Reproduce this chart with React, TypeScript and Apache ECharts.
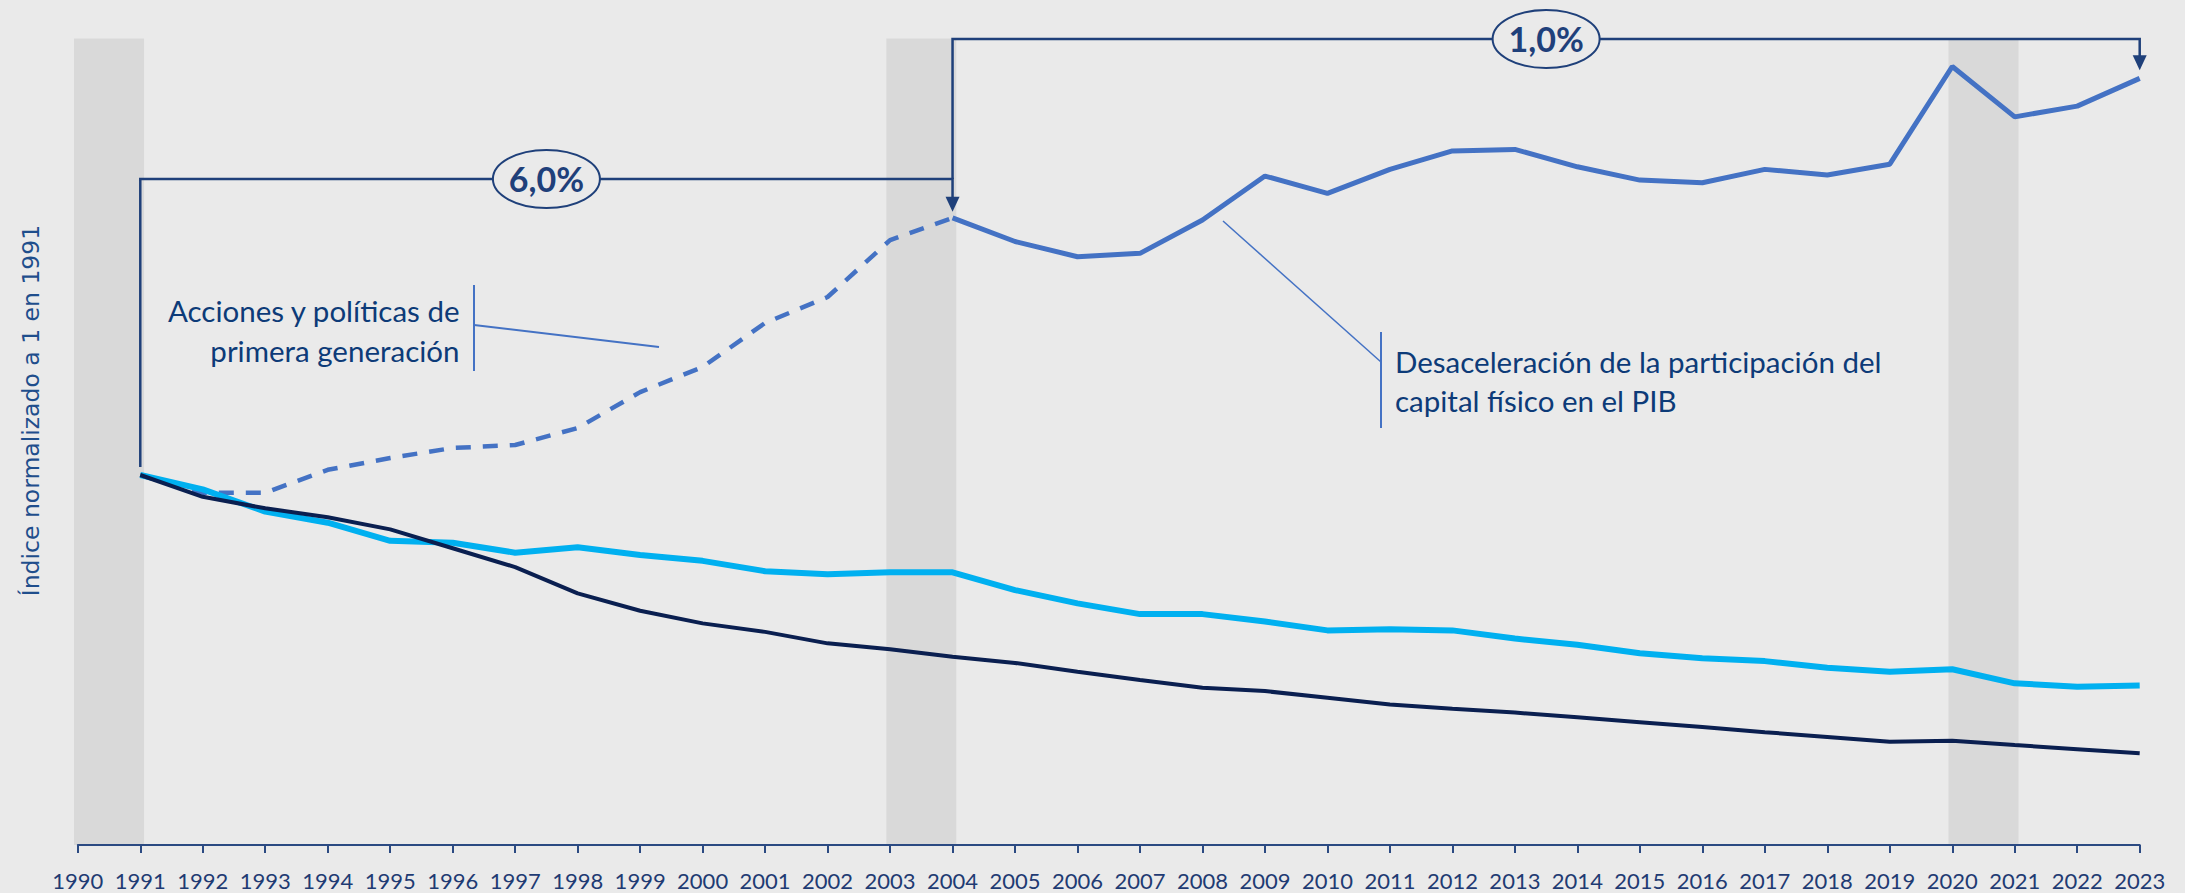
import React, { useEffect, useRef } from 'react';
import * as echarts from 'echarts';

// ---------- DATA ----------
const years = [
  '1990', '1991', '1992', '1993', '1994', '1995', '1996', '1997', '1998', '1999',
  '2000', '2001', '2002', '2003', '2004', '2005', '2006', '2007', '2008', '2009',
  '2010', '2011', '2012', '2013', '2014', '2015', '2016', '2017', '2018', '2019',
  '2020', '2021', '2022', '2023',
];

// Upper series (dashed up to 2004, solid afterwards), index 1991 = 1
const capitalValues = [
  null, 1.0, 0.952, 0.952, 1.014, 1.046, 1.073, 1.081, 1.127, 1.224,
  1.292, 1.411, 1.481, 1.635, 1.695, 1.631, 1.59, 1.599, 1.689, 1.808,
  1.761, 1.826, 1.876, 1.88, 1.833, 1.797, 1.79, 1.826, 1.811, 1.84,
  2.104, 1.968, 1.997, 2.072,
];

// Light blue series
const lightValues = [
  null, 1.0, 0.961, 0.901, 0.871, 0.822, 0.817, 0.79, 0.805, 0.784,
  0.768, 0.74, 0.732, 0.737, 0.737, 0.689, 0.653, 0.624, 0.624, 0.604,
  0.58, 0.583, 0.58, 0.558, 0.541, 0.518, 0.505, 0.497, 0.479, 0.468,
  0.475, 0.437, 0.428, 0.431,
];

// Dark navy series
const darkValues = [
  null, 1.0, 0.941, 0.91, 0.886, 0.853, 0.802, 0.751, 0.68, 0.633,
  0.599, 0.576, 0.545, 0.529, 0.509, 0.492, 0.468, 0.446, 0.425, 0.416,
  0.398, 0.38, 0.368, 0.358, 0.345, 0.332, 0.319, 0.305, 0.292, 0.279,
  0.282, 0.27, 0.259, 0.248,
];

const dashEndYear = '2004';
const bandPeriods = [['1990', '1991'], ['2003', '2004'], ['2020', '2021']];
const growthLabels = ['6,0%', '1,0%'];
const growthYears = ['1991', '2004', '2023'];
const firstBracketLevel = 1.8;
const yAxisTitle = 'Índice normalizado a 1 en 1991';
const noteLeft = 'Acciones y políticas de\nprimera generación';
const noteRight = 'Desaceleración de la participación del\ncapital físico en el PIB';

// ---------- STYLE ----------
const Y_MAX = 2.18;
const BG = '#EAEAEA';
const BAND = '#D9D9D9';
const BRACKET = '#1F407A';
const AXIS = '#2B4A82';
const LABEL = '#1F3B73';
const NOTE = '#0D3B78';
const BLUE = '#4472C4';
const LIGHT = '#00B0F0';
const DARK = '#0A1F50';

export default function App() {
  const ref = useRef<HTMLDivElement>(null);

  useEffect(() => {
    if (!ref.current) return;
    const chart = echarts.init(ref.current, null, { renderer: 'svg' });
    const dashIdx = years.indexOf(dashEndYear);
    const dashed = capitalValues.map((v, i) => (i <= dashIdx ? v : null));
    const solid = capitalValues.map((v, i) => (i >= dashIdx ? v : null));

    const option: any = {
      animation: false,
      backgroundColor: BG,
      grid: { left: 77.8, right: 45.3, top: 38.4, bottom: 48, containLabel: false },
      xAxis: {
        type: 'category',
        data: years,
        boundaryGap: false,
        axisLine: { lineStyle: { color: AXIS, width: 2 } },
        axisTick: { length: 8, lineStyle: { color: AXIS, width: 2 } },
        axisLabel: { fontFamily: 'Lato', fontSize: 22, color: LABEL, margin: 24, interval: 0 },
        splitLine: { show: false },
      },
      yAxis: { type: 'value', min: 0, max: Y_MAX, show: false, splitLine: { show: false } },
      series: [
        {
          type: 'custom',
          silent: true,
          z: 0,
          data: bandPeriods.map(([a, b]) => [years.indexOf(a), years.indexOf(b), 0]),
          encode: { x: [0, 1], y: 2 },
          renderItem: (params: any, api: any) => {
            const s = api.coord([api.value(0), Y_MAX]);
            const e = api.coord([api.value(1), 0]);
            const w = (e[0] - s[0]) * 1.12;
            const cx = (s[0] + e[0]) / 2;
            return {
              type: 'rect',
              shape: { x: cx - w / 2, y: s[1], width: w, height: e[1] - s[1] },
              style: { fill: BAND },
            };
          },
        },
        {
          type: 'line', data: dashed, symbol: 'none', z: 2,
          lineStyle: { color: BLUE, width: 4.5, type: [15, 12] },
        },
        {
          type: 'line', data: solid, symbol: 'none', z: 3,
          lineStyle: { color: BLUE, width: 5 },
        },
        {
          type: 'line', data: lightValues, symbol: 'none', z: 4,
          lineStyle: { color: LIGHT, width: 6 },
        },
        {
          type: 'line', data: darkValues, symbol: 'none', z: 5,
          lineStyle: { color: DARK, width: 4 },
        },
      ],
    };
    chart.setOption(option);

    const px = (yr: string, v: number) =>
      chart.convertToPixel({ xAxisIndex: 0, yAxisIndex: 0 }, [years.indexOf(yr), v]) as number[];

    const [yA, yB, yC] = growthYears;
    const pA = px(yA, capitalValues[years.indexOf(yA)] as number);
    const pB = px(yB, capitalValues[years.indexOf(yB)] as number);
    const pC = px(yC, capitalValues[years.indexOf(yC)] as number);
    const lvl1 = px(yA, firstBracketLevel)[1];
    const lvl2 = px(yA, Y_MAX)[1] + 0.6;
    const tipB = pB[1] - 6;
    const tipC = pC[1] - 8;
    const ah = 15;
    const aw = 7;

    const lineStyle = { stroke: BRACKET, lineWidth: 2.5, fill: 'none' };
    const graphics: any[] = [
      {
        type: 'polyline', z: 100,
        shape: { points: [[pA[0], pA[1] - 8], [pA[0], lvl1], [pB[0], lvl1], [pB[0], tipB - ah + 2]] },
        style: lineStyle,
      },
      {
        type: 'polygon', z: 100,
        shape: { points: [[pB[0] - aw, tipB - ah], [pB[0] + aw, tipB - ah], [pB[0], tipB]] },
        style: { fill: BRACKET },
      },
      {
        type: 'polyline', z: 100,
        shape: { points: [[pB[0], lvl1], [pB[0], lvl2], [pC[0], lvl2], [pC[0], tipC - ah + 2]] },
        style: lineStyle,
      },
      {
        type: 'polygon', z: 100,
        shape: { points: [[pC[0] - aw, tipC - ah], [pC[0] + aw, tipC - ah], [pC[0], tipC]] },
        style: { fill: BRACKET },
      },
    ];
    const ellipses = [
      { cx: (pA[0] + pB[0]) / 2, cy: lvl1, label: growthLabels[0] },
      { cx: (pB[0] + pC[0]) / 2, cy: lvl2, label: growthLabels[1] },
    ];
    ellipses.forEach((e) => {
      graphics.push({
        type: 'ellipse', z: 101,
        shape: { cx: e.cx, cy: e.cy, rx: 53.5, ry: 29 },
        style: { fill: BG, stroke: BRACKET, lineWidth: 2 },
      });
      graphics.push({
        type: 'text', z: 102, x: e.cx, y: e.cy - 1,
        style: {
          text: e.label, fill: BRACKET, font: 'bold 34px Lato',
          align: 'center', verticalAlign: 'middle',
        },
      });
    });

    // y-axis title
    graphics.push({
      type: 'text', z: 100, x: 31, y: 410.5, rotation: Math.PI / 2,
      style: {
        text: yAxisTitle, fill: '#1F4E8C', font: '23.5px "DejaVu Sans"',
        align: 'center', verticalAlign: 'middle',
      },
    });

    // left note
    graphics.push({
      type: 'text', z: 100, x: 459.5, y: 290,
      style: {
        text: noteLeft, fill: NOTE, font: '29.5px Lato', lineHeight: 40,
        align: 'right', verticalAlign: 'top',
      },
    });
    graphics.push({
      type: 'line', z: 100,
      shape: { x1: 474, y1: 285, x2: 474, y2: 371 },
      style: { stroke: BLUE, lineWidth: 2 },
    });
    graphics.push({
      type: 'line', z: 100,
      shape: { x1: 474, y1: 325, x2: 659, y2: 347 },
      style: { stroke: BLUE, lineWidth: 2 },
    });

    // right note
    graphics.push({
      type: 'text', z: 100, x: 1395, y: 342,
      style: {
        text: noteRight, fill: NOTE, font: '29.5px Lato', lineHeight: 39,
        align: 'left', verticalAlign: 'top',
      },
    });
    graphics.push({
      type: 'line', z: 100,
      shape: { x1: 1381, y1: 332, x2: 1381, y2: 428 },
      style: { stroke: BLUE, lineWidth: 2 },
    });
    graphics.push({
      type: 'line', z: 100,
      shape: { x1: 1381, y1: 362, x2: 1223, y2: 221 },
      style: { stroke: BLUE, lineWidth: 1.5 },
    });

    chart.setOption({ graphic: graphics });

    return () => chart.dispose();
  }, []);

  return (
    <div
      ref={ref}
      style={{ position: 'absolute', left: 0, top: 0, width: 2185, height: 893 }}
    />
  );
}
